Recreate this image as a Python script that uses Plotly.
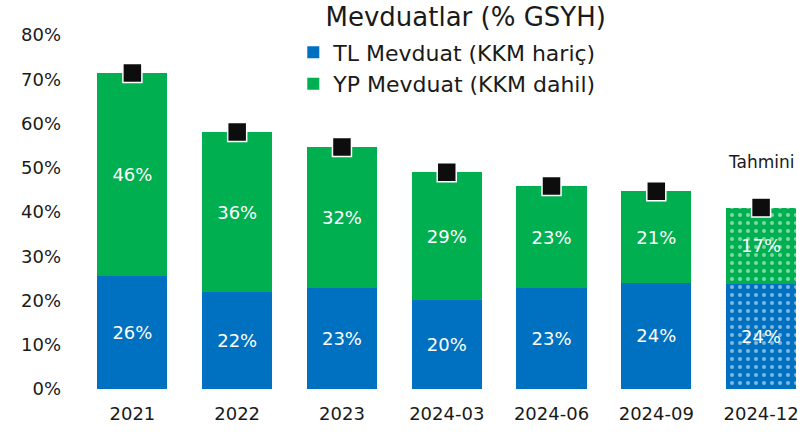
import plotly.graph_objects as go

categories = ["2021", "2022", "2023", "2024-03", "2024-06", "2024-09", "2024-12"]
tl_values = [25.5, 21.9, 22.8, 20.1, 22.8, 24.0, 23.8]
yp_values = [45.9, 36.2, 31.9, 28.9, 23.1, 20.7, 17.2]
tl_labels = ["26%", "22%", "23%", "20%", "23%", "24%", "24%"]
yp_labels = ["46%", "36%", "32%", "29%", "23%", "21%", "17%"]
totals = [a + b for a, b in zip(tl_values, yp_values)]
patterns = ["", "", "", "", "", "", "."]

BLUE = "#0070C0"
GREEN = "#00B050"
FONT = "DejaVu Sans"
TXT = "#1a1a1a"

fig = go.Figure()
fig.add_trace(go.Bar(
    x=categories, y=tl_values, name="TL Mevduat (KKM hariç)",
    marker=dict(color=BLUE, line=dict(width=0),
                pattern=dict(shape=patterns, fgcolor="white", size=8, solidity=0.2, fillmode="overlay")),
    text=tl_labels, textposition="inside", insidetextanchor="middle",
    textfont=dict(color="white", size=18, family=FONT), hoverinfo="skip",
))
fig.add_trace(go.Bar(
    x=categories, y=yp_values, name="YP Mevduat (KKM dahil)",
    marker=dict(color=GREEN, line=dict(width=0),
                pattern=dict(shape=patterns, fgcolor="white", size=8, solidity=0.2, fillmode="overlay")),
    text=yp_labels, textposition="inside", insidetextanchor="middle",
    textfont=dict(color="white", size=18, family=FONT), hoverinfo="skip",
))
fig.add_trace(go.Scatter(
    x=categories, y=totals, mode="markers", showlegend=False,
    marker=dict(symbol="square", size=19, color="#0d0d0d", line=dict(color="white", width=1.5)),
    hoverinfo="skip",
))

fig.add_annotation(x=categories[-1], y=totals[-1], yref="y", xref="x", text="Tahmini",
                   showarrow=False, yshift=46, font=dict(size=17, family=FONT, color=TXT))

fig.update_layout(
    width=803, height=432,
    barmode="stack", bargap=0.33,
    plot_bgcolor="white", paper_bgcolor="white",
    margin=dict(l=80, r=0, t=35, b=43, autoexpand=False),
    font=dict(family=FONT, color=TXT),
    title=dict(text="Mevduatlar (% GSYH)", x=0.58, xanchor="center", y=0.962, yanchor="middle",
               font=dict(size=26, family=FONT, color=TXT)),
    legend=dict(x=0.295, y=1.01, xanchor="left", yanchor="top", font=dict(size=22, family=FONT, color=TXT),
                bgcolor="rgba(0,0,0,0)", itemwidth=30, tracegroupgap=4, traceorder="normal"),
    xaxis=dict(type="category", range=[-0.5, 6.4], showline=False, ticks="",
               ticklabelstandoff=12, tickfont=dict(size=18, family=FONT, color=TXT)),
    yaxis=dict(range=[0, 80], dtick=10, ticksuffix="%", showgrid=False, zeroline=False,
               ticklabelstandoff=18, tickfont=dict(size=18, family=FONT, color=TXT)),
)

fig.write_html("out.html", config={"displayModeBar": False},
               post_script="document.body.style.margin='0';")
